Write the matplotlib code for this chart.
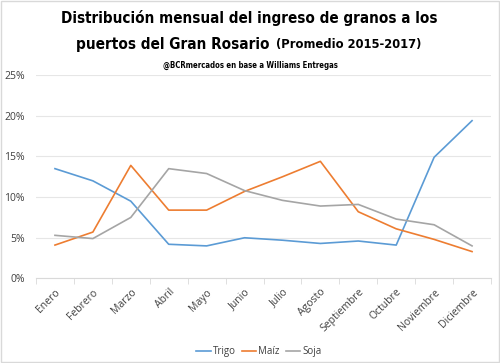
import numpy as np
import matplotlib
matplotlib.use('Agg')
import matplotlib.pyplot as plt
from matplotlib import font_manager
from matplotlib.patches import Rectangle
from matplotlib.ticker import PercentFormatter

meses = ['Enero', 'Febrero', 'Marzo', 'Abril', 'Mayo', 'Junio', 'Julio',
         'Agosto', 'Septiembre', 'Octubre', 'Noviembre', 'Diciembre']
trigo = [13.5, 12.0, 9.5, 4.2, 4.0, 5.0, 4.7, 4.3, 4.6, 4.1, 14.9, 19.4]
maiz = [4.1, 5.7, 13.9, 8.4, 8.4, 10.7, 12.5, 14.4, 8.2, 6.1, 4.8, 3.3]
soja = [5.3, 4.9, 7.5, 13.5, 12.9, 10.8, 9.6, 8.9, 9.1, 7.3, 6.6, 4.0]

series = {'Trigo': (trigo, '#5B9BD5'), 'Maíz': (maiz, '#ED7D31'), 'Soja': (soja, '#A5A5A5')}

# condensed bold font if there is one
cond = [f.fname for f in font_manager.fontManager.ttflist
        if 'Condensed' in f.fname and 'Bold' in f.fname and 'Oblique' not in f.fname]
if cond:
    titprop = font_manager.FontProperties(fname=sorted(cond)[0])
else:
    titprop = font_manager.FontProperties(family='DejaVu Sans', weight='bold')
txtfont = ['Open Sans', 'DejaVu Sans']

fig = plt.figure(figsize=(5.0, 3.63), dpi=100)
ax = fig.add_axes([0.072, 0.233, 0.91, 0.56])

x = np.arange(len(meses))
for nombre, (vals, col) in series.items():
    ax.plot(x, vals, color=col, lw=1.2, label=nombre)

ax.set_xlim(-0.5, len(meses) - 0.5)
ax.set_ylim(0, 25)
ax.set_yticks(np.arange(0, 26, 5))
ax.yaxis.set_major_formatter(PercentFormatter(decimals=0))
ax.grid(axis='y', color='#E6E6E6', lw=0.8)
ax.set_axisbelow(True)
for s in ['top', 'right', 'left']:
    ax.spines[s].set_visible(False)
ax.spines['bottom'].set_color('#D9D9D9')
ax.tick_params(axis='y', length=0, labelsize=7.5, labelcolor='#404040', pad=8)

ax.set_xticks(x)
ax.set_xticklabels(meses, rotation=45, ha='right', rotation_mode='anchor',
                   fontsize=7.5, color='#404040', family=txtfont)
ax.tick_params(axis='x', length=0, pad=6)
ax.set_xticks(np.arange(-0.5, len(meses)), minor=True)
ax.tick_params(axis='x', which='minor', length=4, color='#D9D9D9')
for lab in ax.get_yticklabels():
    lab.set_family(txtfont)

leg = ax.legend(loc='upper center', bbox_to_anchor=(0.49, -0.29), ncol=3, frameon=False,
                handlelength=1.5, handletextpad=0.2, columnspacing=0.6,
                prop={'family': txtfont, 'size': 7})
for t in leg.get_texts():
    t.set_color('#404040')

fig.text(0.499, 0.95, 'Distribución mensual del ingreso de granos a los',
         ha='center', va='center', fontproperties=titprop, fontsize=10.9)
t1 = fig.text(0.5, 0.878, 'puertos del Gran Rosario', ha='left', va='center',
              fontproperties=titprop, fontsize=11)
t2 = fig.text(0.5, 0.878, '(Promedio 2015-2017)', ha='left', va='center',
              fontproperties=titprop, fontsize=9.3)
# center the two-part second line
r = fig.canvas.get_renderer()
w1 = t1.get_window_extent(r).width
w2 = t2.get_window_extent(r).width
gap = 7
x0 = 248.5 - (w1 + gap + w2) / 2
t1.set_x(x0 / 500)
t2.set_x((x0 + w1 + gap) / 500)
fig.text(0.5, 0.82, '@BCRmercados en base a Williams Entregas',
         ha='center', va='center', fontproperties=titprop, fontsize=5.6)

fig.patches.append(Rectangle((0.002, 0.003), 0.995, 0.994, transform=fig.transFigure,
                             fill=False, edgecolor='#D9D9D9', lw=1))

fig.savefig('out.png', dpi=100)
